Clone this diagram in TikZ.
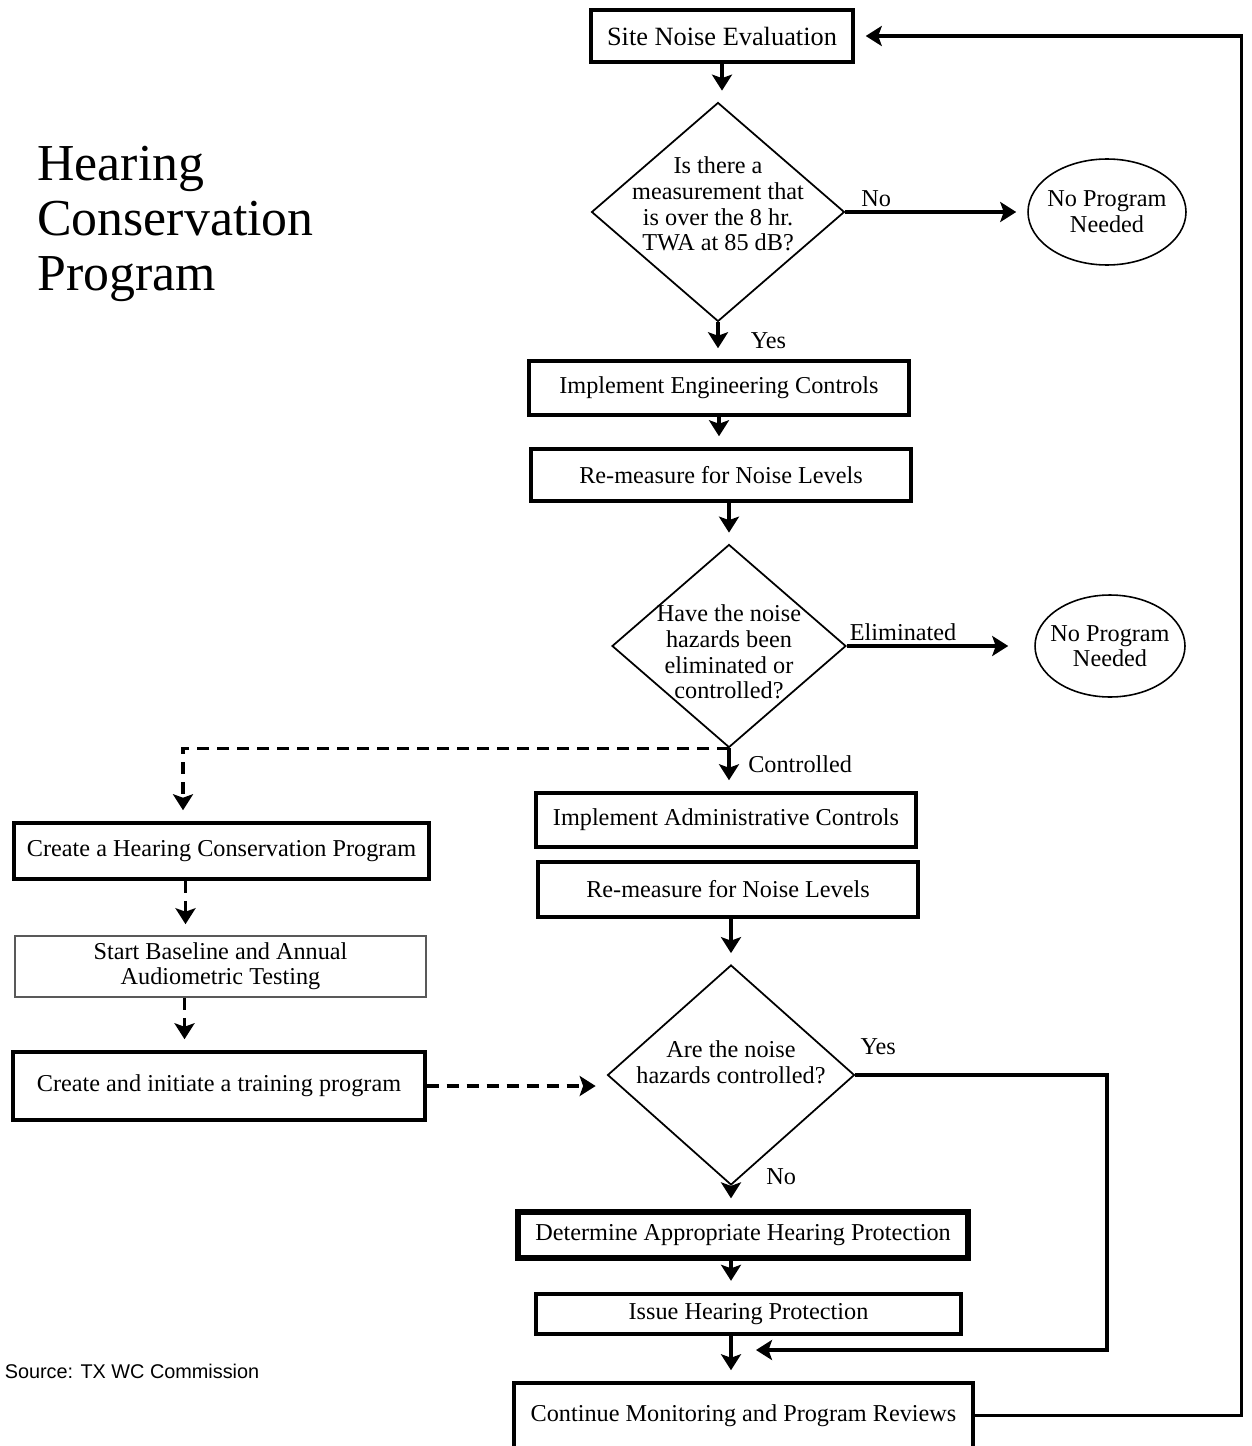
\documentclass[tikz,border=0pt]{standalone}
\usepackage{fontspec}
\setmainfont{Liberation Serif}
\newfontfamily\srcfont{Liberation Sans}
\usepackage{tikz}
\usetikzlibrary{arrows.meta}
\usetikzlibrary{shapes.geometric,positioning}

\begin{document}
\begin{tikzpicture}[x=0.02cm, y=-0.02cm, every node/.style = {font=\fontsize{13.8}{14.4}\selectfont}, flowbox/.style = {draw=black, line width=2pt, align=center, inner sep=1pt}, query/.style = {draw=black, diamond, line width=1pt, inner sep=0pt}, endnode/.style = {draw=black, ellipse, line width=0.9pt, inner sep=0pt},
			flowtext/.style = {align=center, inner sep=0pt, font=\fontsize{13.8}{14.6}\selectfont}, arr/.style = {line width=2pt, -{Stealth[length=0.32cm, width=0.4cm, inset=0.07cm]}, shorten >=0.22cm}, darr/.style = {arr, dash pattern=on 0.24cm off 0.16cm}, lbl/.style = {inner sep=2pt}]
			\useasboundingbox (0,0) rectangle (1251,1446);

			\node [anchor=north west, inner sep=0pt, align=left, font=\fontsize{29.5}{31.2}\selectfont] (title) at (37,146) {Hearing\\Conservation\\Program};
			\node [inner sep=0pt, font=\srcfont\fontsize{11.3}{13}\selectfont] (src) at (132,1371) {Source: TX WC Commission};

			\node [flowbox, minimum width=5.24cm, minimum height=1.04cm, font=\fontsize{15}{16}\selectfont] (sne) at (722,36) {Site Noise Evaluation};
			\node [query, minimum width=5.06cm, minimum height=4.38cm] (q1) at (718,212) {};
			\node [flowtext] (q1t) at (718,204) {Is there a\\measurement that\\is over the 8 hr.\\TWA at 85 dB?};
			\node [endnode, minimum width=3.16cm, minimum height=2.12cm] (none1) at (1107,212) {};
			\node [flowtext] (none1t) at (none1) {No Program\\Needed};
			\node [flowbox, minimum width=7.6cm, minimum height=1.08cm] (eng) at (719,388) {Implement Engineering Controls};
			\node [flowbox, minimum width=7.6cm, minimum height=1.04cm] (rem1) at (721,475) {Re-measure for Noise Levels};
			\node [query, minimum width=4.68cm, minimum height=4.06cm] (q2) at (729,646) {};
			\node [flowtext] (q2t) at (729,652) {Have the noise\\hazards been\\eliminated or\\controlled?};
			\node [endnode, minimum width=3.0cm, minimum height=2.04cm] (none2) at (1110,646) {};
			\node [flowtext] (none2t) at (none2) {No Program\\Needed};
			\node [flowbox, minimum width=7.6cm, minimum height=1.08cm] (adm) at (726,820) {Implement Administrative Controls};
			\node [flowbox, minimum width=7.6cm, minimum height=1.1cm] (rem2) at (728,889.5) {Re-measure for Noise Levels};
			\node [query, minimum width=4.94cm, minimum height=4.4cm] (q3) at (731,1075) {};
			\node [flowtext] (q3t) at (731,1062) {Are the noise\\hazards controlled?};
			\node [flowbox, line width=3pt, minimum width=9.0cm, minimum height=0.92cm] (det) at (743,1235) {Determine Appropriate Hearing Protection};
			\node [flowbox, line width=2.5pt, minimum width=8.5cm, minimum height=0.8cm] (iss) at (748.5,1314) {Issue Hearing Protection};
			\node [flowbox, minimum width=9.18cm, minimum height=1.3cm] (cont) at (743.5,1415.5) {Continue Monitoring and Program Reviews};

			\node [flowbox, minimum width=8.3cm, minimum height=1.12cm] (hcp) at (221.5,851) {Create a Hearing Conservation Program};
			\node [flowbox, draw=black!65, line width=0.9pt, minimum width=8.22cm, minimum height=1.22cm, font=\fontsize{13.8}{14.2}\selectfont] (sbt) at (220.5,966.5) {Start Baseline and Annual\\Audiometric Testing};
			\node [flowbox, minimum width=8.24cm, minimum height=1.36cm] (trn) at (219,1086) {Create and initiate a training program};
			\coordinate (join) at (745,1350);

			\draw [arr] (sne.south) -- (sne.south |- q1.north);
			\draw [arr] (q1.east) -- node [lbl, above, pos=0.17] (lno1) {No} (none1.west);
			\draw [arr] (q1.south) -- node [lbl, right, xshift=0.55cm] (lyes1) {Yes} (q1.south |- eng.north);
			\draw [arr] (eng.south) -- (eng.south |- rem1.north);
			\draw [arr] (q2.north |- rem1.south) -- (q2.north);
			\draw [arr, shorten >=0.52cm] (q2.east) -- node [lbl, above, pos=0.3] (lelim) {Eliminated} (none2.west);
			\draw [arr] (q2.south) -- node [lbl, right, pos=0.38, xshift=0.28cm] (lctrl) {Controlled} (q2.south |- adm.north);
			\draw [arr] (q3.north |- rem2.south) -- (q3.north);
			\draw [arr] (q3.south) -- node [lbl, right, pos=0, xshift=0.6cm, yshift=0.18cm] (lno2) {No} (q3.south |- det.north);
			\draw [arr] (q3.south |- det.south) -- (q3.south |- iss.north);
			\draw [arr] (q3.south |- iss.south) -- (q3.south |- cont.north);
			\draw [arr] (q3.east) -| node [lbl, above right, pos=0, yshift=0.3cm] (lyes2) {Yes} (1107,1350) -- (join);
			\draw [arr] (cont.east) -| ([xshift=7.74cm]sne.east) -- (sne.east);

			\draw [darr] (q2.south) -| ([xshift=-0.77cm]hcp.north);
			\draw [darr] ([xshift=-0.72cm]hcp.south) -- ([xshift=-0.72cm]hcp.south |- sbt.north);
			\draw [darr] ([xshift=-0.72cm]sbt.south) -- ([xshift=-0.72cm]sbt.south |- trn.north);
			\draw [darr] (trn.east) -- (trn.east -| q3.west);
		\end{tikzpicture}
\end{document}
